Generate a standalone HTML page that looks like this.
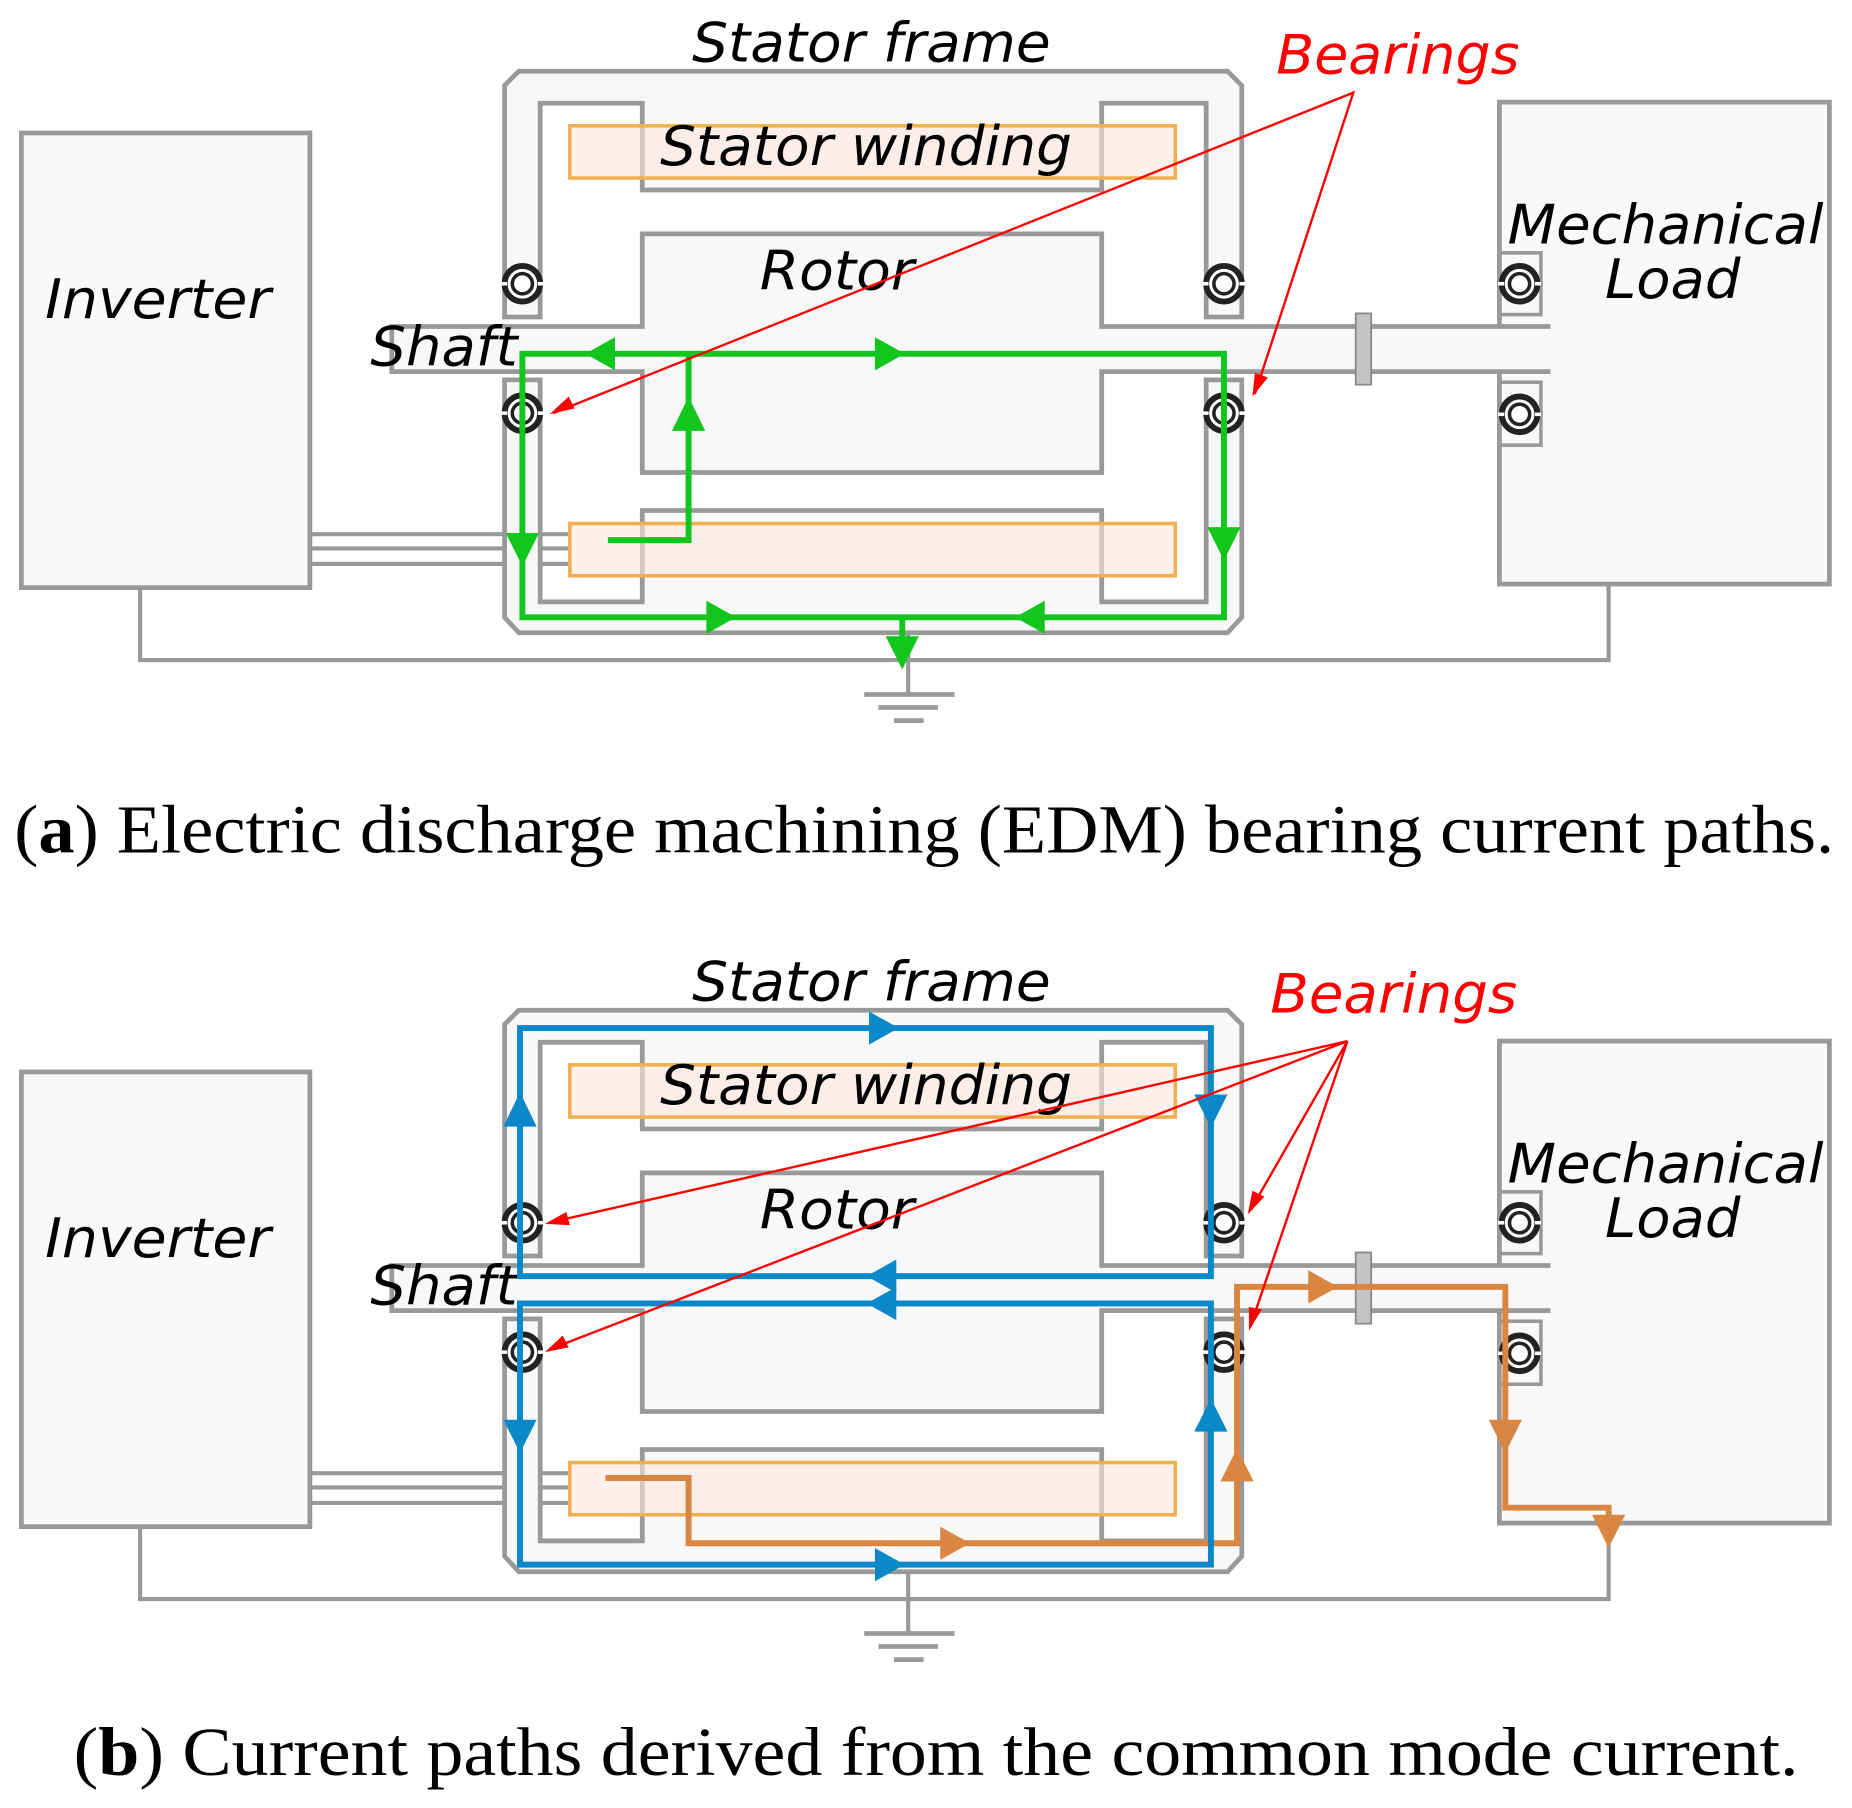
<!DOCTYPE html>
<html><head><meta charset="utf-8"><style>html,body{margin:0;padding:0;background:#fff}svg{display:block}</style></head><body>
<svg width="1852" height="1808" viewBox="0 0 1560 1523" xmlns="http://www.w3.org/2000/svg">
<defs>
<g id="brg"><circle r="15" fill="#fff" stroke="#222" stroke-width="5"/><circle r="8.5" fill="#fff" stroke="#222" stroke-width="3"/><rect x="-18" y="-1.5" width="5" height="3" fill="#fff"/><rect x="13" y="-1.5" width="5" height="3" fill="#fff"/></g>
<g id="base">
<rect x="18" y="112" width="243" height="383" fill="#f9f9fb" stroke="#999" stroke-width="4"/>
<text x="38" y="268" font-family="DejaVu Sans, sans-serif" font-style="italic" font-size="46" textLength="190" lengthAdjust="spacingAndGlyphs">Inverter</text>
<g stroke="#999" stroke-width="3.5"><line x1="261" y1="450" x2="480" y2="450"/><line x1="261" y1="462" x2="480" y2="462"/><line x1="261" y1="475" x2="480" y2="475"/></g>
<polyline points="118,495 118,556 1355,556 1355,492" fill="none" stroke="#999" stroke-width="3.5"/>
<line x1="765" y1="533" x2="765" y2="584" stroke="#999" stroke-width="3.5"/>
<g stroke="#999" stroke-width="4"><line x1="728" y1="585" x2="804" y2="585"/><line x1="740" y1="596" x2="790" y2="596"/><line x1="753" y1="607" x2="778" y2="607"/></g>
<path d="M425,267 V72 L437,60 H1034 L1046,72 V267 H1016 V87 H928 V160 H541 V87 H455 V267 Z M425,320 V520 L437,533 H1034 L1046,520 V320 H1016 V507 H928 V430 H541 V507 H455 V320 Z" fill="#f8f8f9" stroke="#999" stroke-width="4"/>
<rect x="480" y="106" width="510" height="44" fill="#fde6dc" fill-opacity="0.6" stroke="#f0b050" stroke-width="3"/>
<rect x="480" y="441" width="510" height="44" fill="#fde6dc" fill-opacity="0.6" stroke="#f0b050" stroke-width="3"/>
<rect x="1263" y="86" width="278" height="406" fill="#f9f9fb" stroke="#999" stroke-width="4"/>
<rect x="1263" y="213" width="35" height="52" fill="none" stroke="#999" stroke-width="3"/>
<rect x="1263" y="322" width="35" height="53" fill="none" stroke="#999" stroke-width="3"/>
<path d="M1306,275 H928 V197 H541 V275 H330 V313 H541 V398 H928 V313 H1306" fill="#f8f8fa" stroke="#999" stroke-width="4"/>
<rect x="1142" y="264" width="13" height="60" fill="#c4c4c4" stroke="#888" stroke-width="1.5"/>
<use href="#brg" x="440" y="239"/><use href="#brg" x="440" y="348"/>
<use href="#brg" x="1031" y="239"/><use href="#brg" x="1031" y="348"/>
<use href="#brg" x="1280" y="239"/><use href="#brg" x="1280" y="349"/>
<g font-family="DejaVu Sans, sans-serif" font-style="italic" font-size="46">
<text x="583" y="52" textLength="302" lengthAdjust="spacingAndGlyphs">Stator frame</text>
<text x="556" y="139" textLength="347" lengthAdjust="spacingAndGlyphs">Stator winding</text>
<text x="640" y="244" textLength="130" lengthAdjust="spacingAndGlyphs">Rotor</text>
<text x="312" y="308" textLength="124" lengthAdjust="spacingAndGlyphs">Shaft</text>
<text x="1270" y="205" textLength="266" lengthAdjust="spacingAndGlyphs">Mechanical</text>
<text x="1352" y="251" textLength="114" lengthAdjust="spacingAndGlyphs">Load</text>
</g>
</g>
</defs>

<use href="#base"/>
<g fill="none" stroke="#12c61e" stroke-width="5">
<rect x="440" y="298" width="591" height="222"/>
<polyline points="512,455 580,455 580,298"/>
<line x1="760" y1="520" x2="760" y2="548"/>
</g>
<g fill="#12c61e">
<polygon points="493,298 518,284 518,312"/>
<polygon points="762,298 737,284 737,312"/>
<polygon points="580,334 566,363 594,363"/>
<polygon points="440,477 426,449 454,449"/>
<polygon points="1031,472 1017,444 1045,444"/>
<polygon points="620,520 595,506 595,534"/>
<polygon points="855,520 880,506 880,534"/>
<polygon points="760,564 746,536 774,536"/>
</g>
<g stroke="#f00" stroke-width="2" fill="none"><polyline points="466,348 1140,78 1057,332"/></g>
<g fill="#f00"><polygon points="463,349 479,334 484,344"/><polygon points="1055,334 1057,314 1068,318"/></g>
<text x="1075" y="62" font-family="DejaVu Sans, sans-serif" font-style="italic" font-size="46" fill="#f00" textLength="205" lengthAdjust="spacingAndGlyphs">Bearings</text>
<text x="12" y="718" font-family="Liberation Serif, serif" font-size="58" textLength="1533" lengthAdjust="spacingAndGlyphs">(<tspan font-weight="bold">a</tspan>) Electric discharge machining (EDM) bearing current paths.</text>

<use href="#base" y="791"/>
<g fill="none" stroke="#d98643" stroke-width="5">
<polyline points="510,1245 580,1245 580,1300 1042,1300 1042,1084 1268,1084 1268,1270 1355,1270 1355,1290"/>
</g>
<g fill="none" stroke="#0a88c8" stroke-width="5">
<rect x="438" y="866" width="582" height="209"/>
<rect x="438" y="1098" width="582" height="220"/>
</g>
<g fill="#0a88c8">
<polygon points="757,866 732,852 732,880"/>
<polygon points="438,920 424,949 452,949"/>
<polygon points="1020,950 1006,922 1034,922"/>
<polygon points="730,1075 755,1061 755,1089"/>
<polygon points="730,1098 755,1084 755,1112"/>
<polygon points="438,1224 424,1196 452,1196"/>
<polygon points="1020,1178 1006,1206 1034,1206"/>
<polygon points="762,1318 737,1304 737,1332"/>
</g>
<g fill="#d98643">
<polygon points="817,1300 792,1286 792,1314"/>
<polygon points="1042,1220 1028,1248 1056,1248"/>
<polygon points="1127,1084 1102,1070 1102,1098"/>
<polygon points="1268,1224 1254,1196 1282,1196"/>
<polygon points="1355,1304 1341,1276 1369,1276"/>
</g>
<g stroke="#f00" stroke-width="2" fill="none">
<line x1="1135" y1="877" x2="462" y2="1030"/><line x1="1135" y1="877" x2="462" y2="1137"/>
<line x1="1135" y1="877" x2="1053" y2="1020"/><line x1="1135" y1="877" x2="1053" y2="1118"/>
</g>
<g fill="#f00">
<polygon points="459,1031 477,1021 480,1032"/>
<polygon points="459,1139 474,1125 479,1135"/>
<polygon points="1051,1023 1055,1003 1065,1008"/>
<polygon points="1052,1121 1052,1101 1063,1103"/>
</g>
<text x="1070" y="853" font-family="DejaVu Sans, sans-serif" font-style="italic" font-size="46" fill="#f00" textLength="208" lengthAdjust="spacingAndGlyphs">Bearings</text>
<text x="62" y="1495" font-family="Liberation Serif, serif" font-size="58" textLength="1453" lengthAdjust="spacingAndGlyphs">(<tspan font-weight="bold">b</tspan>) Current paths derived from the common mode current.</text>
</svg>
</body></html>
